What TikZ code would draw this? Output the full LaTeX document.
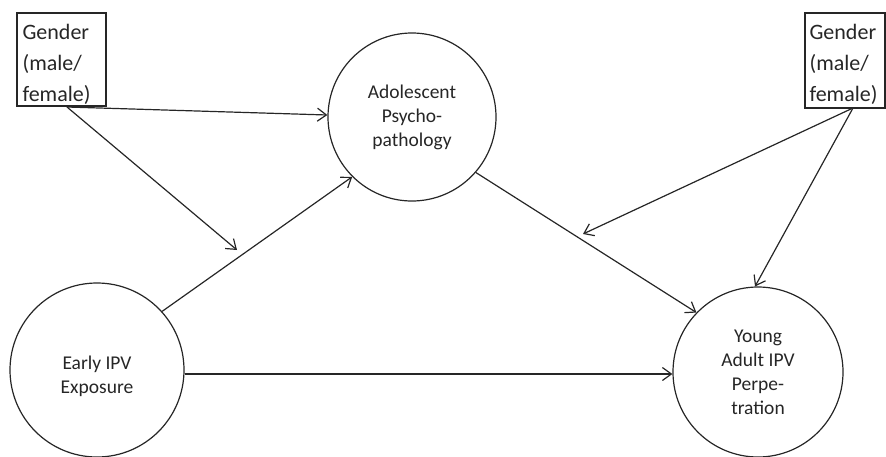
\documentclass[tikz,border=0pt]{standalone}
\usepackage{fontspec}
\setmainfont{Carlito}
\usetikzlibrary{arrows.meta}
\begin{document}
\begin{tikzpicture}[x=1pt,y=-1pt,
  line width=1.2pt,
  conn/.style={-{Straight Barb[length=9pt,width=13pt,line width=1.2pt]}, draw=black!85},
  gtext/.style={anchor=north west, align=left, inner sep=0pt,
    font=\fontsize{22}{31}\selectfont, text=black!85},
  var/.style={draw=black!85, circle, inner sep=0pt, align=center,
    font=\fontsize{19.5}{24}\selectfont, text=black!85}
]
\useasboundingbox (0,0) rectangle (886,456);
% gender boxes
\draw[draw=black!85] (17,13) rectangle (106,106);
\node[gtext] (g1) at (22,24) {Gender\\(male/\\female)};
\coordinate (g1s) at (67,107);
\draw[draw=black!85] (805,13) rectangle (885,108);
\node[gtext] (g2) at (809,24) {Gender\\(male/\\female)};
\coordinate (g2s) at (853,108);
% variables
\node[var, minimum size=168pt] (adol) at (412,117) {Adolescent\\Psycho-\\pathology};
\node[var, minimum size=174pt] (early) at (97,370) {};
\node[font=\fontsize{19.5}{24}\selectfont, text=black!85, align=center] (earlyt) at (97,376) {Early IPV\\Exposure};
\node[var, minimum size=170pt] (ya) at (758,372) {Young\\Adult IPV\\Perpe-\\tration};
% moderation targets
\coordinate (m1) at (237,250);
\coordinate (m2) at (583,234);
% connectors
\draw[conn] (g1s) -- (adol.west |- 0,115);
\draw[conn] (g1s) -- (m1);
\draw[conn] (early.42.6) -- (adol.225);
\draw[conn] (adol.-41) -- (ya.136);
\draw[conn] (g2s) -- (m2);
\draw[conn] (g2s) -- (ya.92);
\draw[conn] (early.east |- 0,374) -- (ya.west |- 0,374);
\end{tikzpicture}
\end{document}
